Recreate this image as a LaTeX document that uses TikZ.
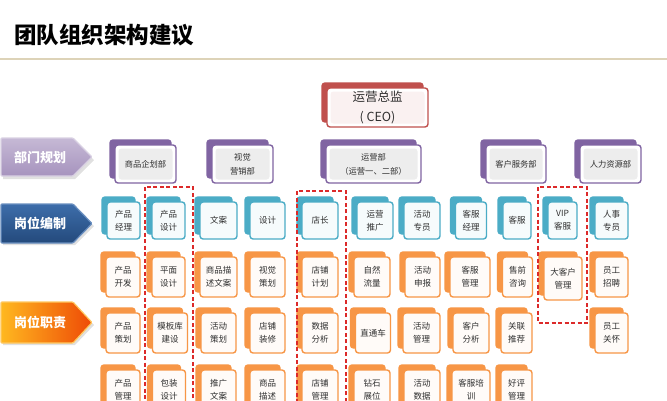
\documentclass[tikz,border=0pt]{standalone}
\usepackage{fontspec}
\setmainfont{Noto Sans CJK SC}
\usetikzlibrary{shadows,calc}
\definecolor{pc}{HTML}{8064A2}
\definecolor{tc}{HTML}{4BACC6}
\definecolor{oc}{HTML}{F79646}
\definecolor{rc}{HTML}{C0504D}
\definecolor{dr}{HTML}{DC2A2A}
\definecolor{beige}{HTML}{DDD3B8}
\definecolor{txt}{HTML}{303030}
\definecolor{bluetop}{HTML}{3D6DAA}
\definecolor{bluebot}{HTML}{244A7C}
\definecolor{blueedge}{HTML}{6A8FC0}
\definecolor{ortop}{HTML}{FFB820}
\definecolor{orbot}{HTML}{EE4A06}
\definecolor{oredge}{HTML}{FFC860}
\pgfdeclarelayer{bg}
\pgfsetlayers{bg,main}
\begin{document}
\begin{tikzpicture}[x=1pt,y=-1pt,
  box/.style={rounded corners=3pt, line width=1.4pt, inner sep=0pt, align=center,
    text=txt, font=\fontsize{8.5}{13}\selectfont},
  inner/.style={path picture={\fill[#1] ([shift={(3.5pt,-3.5pt)}]path picture bounding box.north west) rectangle ([shift={(-3.5pt,3.5pt)}]path picture bounding box.south east);}},
  ceobox/.style={box, draw=rc, fill=white, inner=rc!8, minimum width=101pt, minimum height=39pt,
    font=\fontsize{12.5}{20}\selectfont,
    copy shadow={shadow xshift=-5pt, shadow yshift=5pt, fill=rc, draw=rc, opacity=1}},
  dbox/.style={box, draw=pc, fill=white, inner=black!7, minimum height=38pt,
    font=\fontsize{8.3}{14}\selectfont,
    copy shadow={shadow xshift=-5pt, shadow yshift=5pt, fill=pc, draw=pc, opacity=1}},
  tbox/.style={box, draw=tc, fill=tc!5, minimum height=37pt,
    copy shadow={shadow xshift=-5pt, shadow yshift=5pt, fill=tc, draw=tc, opacity=1}},
  obox/.style={box, draw=oc, fill=oc!4, minimum height=40pt,
    copy shadow={shadow xshift=-5pt, shadow yshift=5pt, fill=oc, draw=oc, opacity=1}},
  pline/.style={draw=pc, line width=1.3pt},
  tline/.style={draw=tc, line width=1.3pt},
  oline/.style={draw=oc, line width=1.3pt},
  dashbox/.style={draw=dr, line width=1.4pt, dash pattern=on 4pt off 2.5pt},
  bantext/.style={text=white, font=\fontsize{13}{15}\selectfont\bfseries, inner sep=0pt}
]
\clip (0,0) rectangle (667,400);
\fill[white] (0,0) rectangle (667,400);

% title
\node[anchor=west, inner sep=0pt, font=\fontsize{22.5}{27}\selectfont\bfseries, text=black] (title) at (14,35) {团队组织架构建议};
\draw[beige, line width=1.8pt] (0,59) -- (667,59);

% banners
\fill[black, opacity=0.12] (3,141) -- (75,141) -- (94,160) -- (75,179) -- (3,179) -- cycle;
\shade[top color=pc!45, bottom color=pc!70, draw=pc!30, line width=1.2pt, rounded corners=1pt]
  (1,138) -- (73,138) -- (92,157) -- (73,176) -- (1,176) -- cycle;
\node[bantext] (b1) at (40,157) {部门规划};

\fill[black, opacity=0.12] (3,207) -- (75,207) -- (94,226) -- (75,245) -- (3,245) -- cycle;
\shade[top color=bluetop, bottom color=bluebot, draw=blueedge, line width=1.2pt, rounded corners=1pt]
  (1,204) -- (73,204) -- (92,223.5) -- (73,243) -- (1,243) -- cycle;
\node[bantext] (b2) at (40,223.5) {岗位编制};

\fill[black, opacity=0.12] (3,305) -- (75,305) -- (94,325) -- (75,345) -- (3,345) -- cycle;
\shade[left color=ortop, right color=orbot, draw=oredge, line width=1.2pt, rounded corners=1pt]
  (1,302) -- (73,302) -- (92,322.5) -- (73,343) -- (1,343) -- cycle;
\node[bantext] (b3) at (40,322.5) {岗位职责};

% CEO
\node[ceobox] (ceo) at (377.5,107.5) {运营总监\\( CEO)};

% departments
\node[dbox, minimum width=61pt] (d1) at (145.5,164) {商品企划部};
\node[dbox, minimum width=61pt] (d2) at (242.5,164) {视觉\\营销部};
\node[dbox, minimum width=95pt] (d3) at (373.5,164) {运营部\\（运营一、二部）};
\node[dbox, minimum width=60pt] (d4) at (516,164) {客户服务部};
\node[dbox, minimum width=61pt] (d5) at (610.5,164) {人力资源部};

% level 2
\node[tbox, minimum width=33pt] (c1) at (123.5,220.5) {产品\\经理};
\node[tbox, minimum width=33pt] (c2) at (168.5,220.5) {产品\\设计};
\node[tbox, minimum width=37pt] (c3) at (218.5,220.5) {文案};
\node[tbox, minimum width=35pt] (c4) at (267.5,220.5) {设计};
\node[tbox, minimum width=36pt] (c5) at (320,220.5) {店长};
\node[tbox, minimum width=36pt] (c6) at (375,220.5) {运营\\推广};
\node[tbox, minimum width=36pt] (c7) at (422,220.5) {活动\\专员};
\node[tbox, minimum width=31pt] (c8) at (471,220.5) {客服\\经理};
\node[tbox, minimum width=28pt] (c9) at (517,220.5) {客服};
\node[tbox, minimum width=29pt] (c10) at (562.5,220.5) {VIP\\客服};
\node[tbox, minimum width=33pt] (c11) at (611.5,220.5) {人事\\专员};

% level 3
\node[obox, minimum width=34pt] (o1-1) at (123,277) {产品\\开发};
\node[obox, minimum width=34pt] (o1-2) at (123,333) {产品\\策划};
\node[obox, minimum width=34pt] (o1-3) at (123,390) {产品\\管理};
\node[obox, minimum width=33pt] (o2-1) at (168.5,277) {平面\\设计};
\node[obox, minimum width=35pt] (o2-2) at (170,333) {模板库\\建设};
\node[obox, minimum width=33pt] (o2-3) at (169,390) {包装\\设计};
\node[obox, minimum width=37pt] (o3-1) at (218.5,277) {商品描\\述文案};
\node[obox, minimum width=35pt] (o3-2) at (218.5,333) {活动\\策划};
\node[obox, minimum width=35pt] (o3-3) at (218.5,390) {推广\\文案};
\node[obox, minimum width=35pt] (o4-1) at (267.5,277) {视觉\\策划};
\node[obox, minimum width=35pt] (o4-2) at (267.5,333) {店铺\\装修};
\node[obox, minimum width=35pt] (o4-3) at (267.5,390) {商品\\描述};
\node[obox, minimum width=36pt] (o5-1) at (320,277) {店铺\\计划};
\node[obox, minimum width=36pt] (o5-2) at (320,333) {数据\\分析};
\node[obox, minimum width=36pt] (o5-3) at (320,390) {店铺\\管理};
\node[obox, minimum width=36pt] (o6-1) at (372,277) {自然\\流量};
\node[obox, minimum width=35pt] (o6-2) at (373,333) {直通车};
\node[obox, minimum width=36pt] (o6-3) at (372,390) {钻石\\展位};
\node[obox, minimum width=35pt] (o7-1) at (422.5,277) {活动\\申报};
\node[obox, minimum width=37pt] (o7-2) at (421.5,333) {活动\\管理};
\node[obox, minimum width=36pt] (o7-3) at (422,390) {活动\\数据};
\node[obox, minimum width=40pt] (o8-1) at (470,277) {客服\\管理};
\node[obox, minimum width=36pt] (o8-2) at (471,333) {客户\\分析};
\node[obox, minimum width=38pt] (o8-3) at (471,390) {客服培\\训};
\node[obox, minimum width=30pt] (o9-1) at (517.5,277) {售前\\咨询};
\node[obox, minimum width=31pt] (o9-2) at (516.5,333) {关联\\推荐};
\node[obox, minimum width=31pt] (o9-3) at (516.5,390) {好评\\管理};
\node[obox, minimum width=38pt, minimum height=43pt] (o10-1) at (563,278.5) {大客户\\管理};
\node[obox, minimum width=33pt] (o11-1) at (611.5,277) {员工\\招聘};
\node[obox, minimum width=33pt] (o11-2) at (611.5,333) {员工\\关怀};

% bus coordinates
\coordinate (bus1) at (0,133);
\coordinate (bus2) at (0,188.5);

% connectors on background
\begin{pgfonlayer}{bg}
  \draw[pline] ([xshift=-14pt]ceo.south) -- ([xshift=-14pt]ceo.south |- bus1);
  \draw[pline] ([xshift=-14pt]ceo.south |- bus1) -| ([xshift=-7.5pt]d1.north);
  \draw[pline] ([xshift=-14pt]ceo.south |- bus1) -| ([xshift=-6.5pt]d2.north);
  \draw[pline] ([xshift=-14pt]ceo.south |- bus1) -| ([xshift=-9.5pt]d3.north);
  \draw[pline] ([xshift=-14pt]ceo.south |- bus1) -| ([xshift=-7pt]d4.north);
  \draw[pline] ([xshift=-14pt]ceo.south |- bus1) -| ([xshift=-6.5pt]d5.north);
  \foreach \d/\cs in {d1/{c1,c2}, d2/{c3,c4}, d3/{c5,c6,c7}, d4/{c8,c9,c10}, d5/{c11}} {
    \draw[tline] ([xshift=-6pt]\d.south) -- ([xshift=-6pt]\d.south |- bus2);
    \foreach \c in \cs {
      \draw[tline] ([xshift=-6pt]\d.south |- bus2) -| ([xshift=-6pt]\c.north);
    }
  }
  \foreach \k in {1,...,9} {
    \draw[oline] ([xshift=-6pt]c\k.south) -- ([xshift=-6pt]c\k.south |- o\k-1.north);
    \draw[oline] ([xshift=-6pt]c\k.south |- o\k-1.south) -- ([xshift=-6pt]c\k.south |- o\k-2.north);
    \draw[oline] ([xshift=-6pt]c\k.south |- o\k-2.south) -- ([xshift=-6pt]c\k.south |- o\k-3.north);
  }
  \draw[oline] ([xshift=-6pt]c10.south) -- ([xshift=-6pt]c10.south |- o10-1.north);
  \draw[oline] ([xshift=-6pt]c11.south) -- ([xshift=-6pt]c11.south |- o11-1.north);
  \draw[oline] ([xshift=-6pt]c11.south |- o11-1.south) -- ([xshift=-6pt]c11.south |- o11-2.north);
\end{pgfonlayer}

% red dashed groups
\draw[dashbox] (145,187) rectangle (193,405);
\draw[dashbox] (297,191) rectangle (346,405);
\draw[dashbox] (538,187) rectangle (587,323);
\end{tikzpicture}
\end{document}
